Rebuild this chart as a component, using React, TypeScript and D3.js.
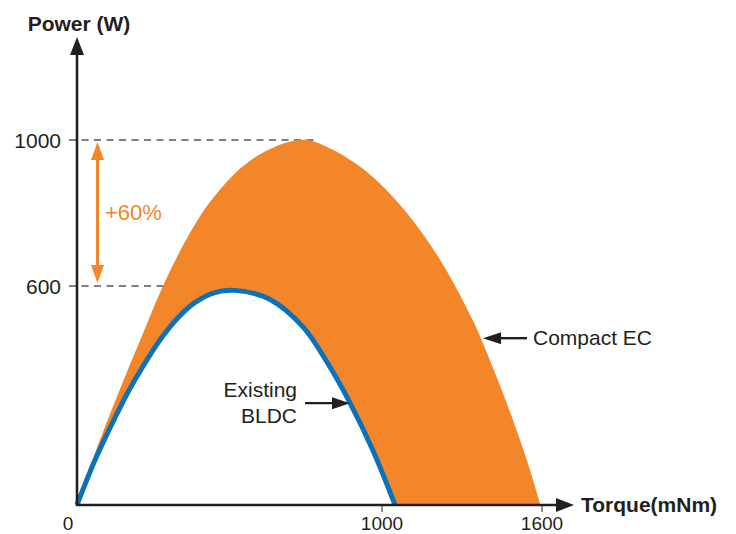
import React from 'react';
import * as d3 from 'd3';

// Axis ticks (the original draws torque unevenly: 0-1000 wider than 1000-1600)
const torqueTicks = [0, 1000, 1600];
const powerTicks = [600, 1000];

// Compact EC power curve (torque mNm, power W)
const compactTorque = [0, 59, 102, 157, 213, 262, 315, 370, 426, 479, 534, 590, 643, 698, 754, 839, 951, 1068, 1169, 1254, 1349, 1394, 1469, 1544, 1594];
const compactPower = [0, 142, 236, 351, 463, 562, 658, 745, 819, 874, 921, 956, 979, 995, 1000, 973, 912, 822, 726, 627, 493, 416, 277, 121, 0];

// Existing BLDC power curve
const bldcTorque = [0, 59, 115, 167, 223, 279, 331, 387, 452, 518, 633, 741, 820, 895, 970, 1049];
const bldcPower = [0, 123, 223, 309, 389, 460, 513, 555, 582, 588, 563, 488, 391, 280, 150, 0];

type Pt = { t: number; p: number };

const compact: Pt[] = compactTorque.map((t, i) => ({ t, p: compactPower[i] }));
const bldc: Pt[] = bldcTorque.map((t, i) => ({ t, p: bldcPower[i] }));

const W = 736;
const H = 534;
const ORANGE = '#f4862a';
const BLUE = '#0b72ba';
const INK = '#231f20';
const FONT = '"Liberation Sans", Arial, Helvetica, sans-serif';

const x = d3.scaleLinear().domain([0, 1000, 1600]).range([77, 382, 542]);
const y = d3.scaleLinear().domain([0, 1000]).range([505, 140]);

const arrowHead = (tx: number, ty: number, dir: 'up' | 'down' | 'left' | 'right', len = 18, half = 7) => {
  let pts: [number, number][];
  if (dir === 'up') pts = [[tx, ty], [tx - half, ty + len], [tx + half, ty + len]];
  else if (dir === 'down') pts = [[tx, ty], [tx - half, ty - len], [tx + half, ty - len]];
  else if (dir === 'left') pts = [[tx, ty], [tx + len, ty - half], [tx + len, ty + half]];
  else pts = [[tx, ty], [tx - len, ty - half], [tx - len, ty + half]];
  return pts.map(p => p.join(',')).join(' ');
};

export default function App() {
  const curve = d3.curveCatmullRom.alpha(0.5);
  const area = d3.area<Pt>()
    .x(d => x(d.t))
    .y0(y(0))
    .y1(d => y(d.p))
    .curve(curve);
  const line = d3.line<Pt>()
    .x(d => x(d.t))
    .y(d => y(d.p))
    .curve(curve);

  const x0 = x(0);
  const y0 = y(0);

  // annotation anchors on the curves
  const bldcTip = { x: x(895), y: y(279) };
  const ecTip = { x: x(1379), y: y(457) };

  return (
    <svg width={W} height={H} style={{ position: 'absolute', left: 0, top: 0, background: '#fff' }} fontFamily={FONT}>
      {/* reference dashes */}
      <line x1={69} x2={x(780)} y1={y(1000)} y2={y(1000)} stroke="#555" strokeWidth={1.3} strokeDasharray="7,5.5" />
      <line x1={69} x2={x(300)} y1={y(600)} y2={y(600)} stroke="#555" strokeWidth={1.3} strokeDasharray="7,5.5" />

      {/* curves */}
      <path d={area(compact) || ''} fill={ORANGE} />
      <path d={area(bldc) || ''} fill="#fff" />
      <path d={line(bldc) || ''} fill="none" stroke={BLUE} strokeWidth={5} />

      {/* axes */}
      <line x1={x0} x2={x0} y1={y0 + 1} y2={50} stroke={INK} strokeWidth={2.6} />
      <polygon points={arrowHead(x0, 37, 'up', 18, 7)} fill={INK} />
      <line x1={x0 - 1} x2={560} y1={y0} y2={y0} stroke={INK} strokeWidth={2.6} />
      <polygon points={arrowHead(574, y0, 'right', 18, 7)} fill={INK} />

      {torqueTicks.filter(t => t > 0).map(t => (
        <line key={t} x1={x(t)} x2={x(t)} y1={y0} y2={y0 + 7} stroke={INK} strokeWidth={1} />
      ))}
      {torqueTicks.map(t => (
        <text key={t} x={t === 0 ? x(t) - 9 : x(t)} y={530} textAnchor="middle" fontSize={19} fill={INK}>{t}</text>
      ))}
      {powerTicks.map(p => (
        <text key={p} x={61} y={y(p) + 7.5} textAnchor="end" fontSize={21} fill={INK}>{p}</text>
      ))}

      <text x={79} y={31} textAnchor="middle" fontSize={21} fontWeight="bold" fill={INK}>Power (W)</text>
      <text x={581} y={512} fontSize={21} fontWeight="bold" fill={INK}>Torque(mNm)</text>

      {/* +60% */}
      <line x1={97.5} x2={97.5} y1={y(1000) + 14} y2={y(600) - 14} stroke={ORANGE} strokeWidth={3} />
      <polygon points={arrowHead(97.5, y(1000) + 2, 'up', 18, 6.5)} fill={ORANGE} />
      <polygon points={arrowHead(97.5, y(600) - 3, 'down', 18, 6.5)} fill={ORANGE} />
      <text x={105} y={220} fontSize={22} fill={ORANGE}>+60%</text>

      {/* labels */}
      <text x={297} y={397} textAnchor="end" fontSize={21} fill={INK}>Existing</text>
      <text x={297} y={423} textAnchor="end" fontSize={21} fill={INK}>BLDC</text>
      <line x1={305} x2={bldcTip.x - 12} y1={bldcTip.y} y2={bldcTip.y} stroke={INK} strokeWidth={2.4} />
      <polygon points={arrowHead(bldcTip.x, bldcTip.y, 'right', 18, 6)} fill={INK} />

      <text x={533} y={345} fontSize={21} fill={INK}>Compact EC</text>
      <line x1={ecTip.x + 12} x2={527} y1={ecTip.y} y2={ecTip.y} stroke={INK} strokeWidth={2.4} />
      <polygon points={arrowHead(ecTip.x, ecTip.y, 'left', 18, 6)} fill={INK} />
    </svg>
  );
}
